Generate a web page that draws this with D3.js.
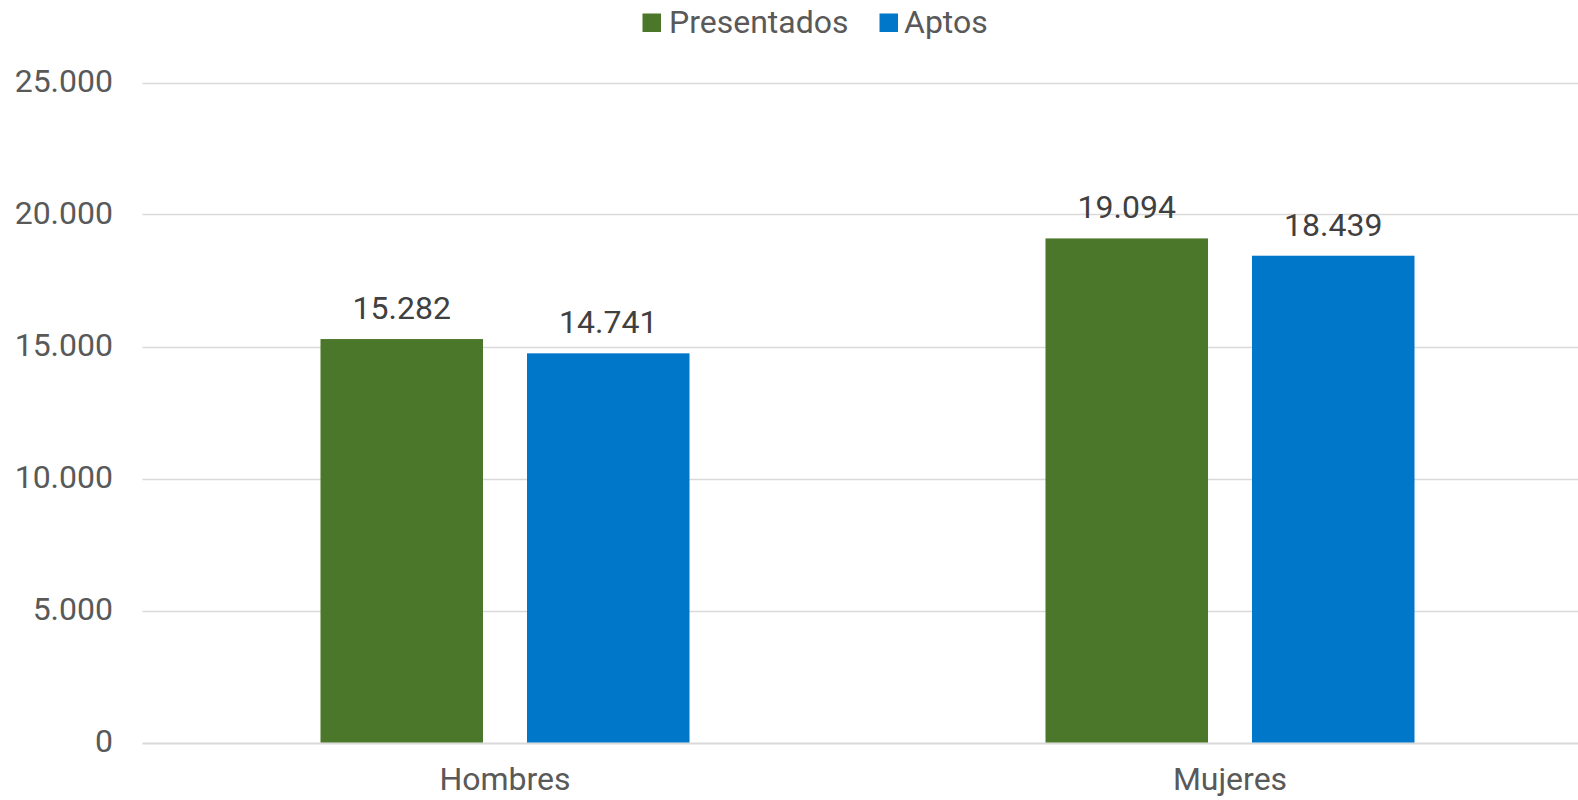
<!DOCTYPE html>
<html>
<head>
<meta charset="utf-8">
<script src="https://cdn.jsdelivr.net/npm/d3@7/dist/d3.min.js"></script>
<style>
  html, body { margin: 0; padding: 0; background: #fff; }
  svg { display: block; font-family: Roboto, "Noto Sans", sans-serif; }
</style>
</head>
<body>
<svg id="chart" width="1578" height="800"></svg>
<script>
const categories = ["Hombres", "Mujeres"];
const seriesNames = ["Presentados", "Aptos"];
const presentados = [15282, 19094];
const aptos = [14741, 18439];
const yTicks = [0, 5000, 10000, 15000, 20000, 25000];
const colors = ["#4a7729", "#0077c8"];

const seriesValues = [presentados, aptos];
const fmt = v => d3.format(",")(v).replace(/,/g, ".");

const svg = d3.select("#chart");
const fontSize = 32;

const y = d3.scaleLinear().domain([0, 25000]).range([742.5, 82.5]);
const x0 = d3.scaleBand().domain(categories).range([142.5, 1592.5]).paddingInner(0).paddingOuter(0);
const x1 = d3.scaleBand().domain(seriesNames).range([0, x0.bandwidth()]).paddingInner(0.213).paddingOuter(0.862);

// gridlines
svg.append("g").selectAll("line").data(yTicks).join("line")
  .attr("x1", 142.5).attr("x2", 1578)
  .attr("y1", d => Math.round(y(d)) + 0.5).attr("y2", d => Math.round(y(d)) + 0.5)
  .attr("stroke", "#d9d9d9").attr("stroke-width", d => d === 0 ? 2 : 1.5);

// y tick labels
svg.append("g").selectAll("text").data(yTicks).join("text")
  .attr("x", 113).attr("y", d => y(d) + 9.5)
  .attr("text-anchor", "end")
  .attr("font-size", fontSize).attr("fill", "#595959")
  .text(d => fmt(d));

// bars
const groups = svg.append("g").selectAll("g").data(categories).join("g")
  .attr("transform", d => `translate(${x0(d)},0)`);

groups.each(function(cat, ci) {
  const g = d3.select(this);
  seriesNames.forEach((s, si) => {
    const v = seriesValues[si][ci];
    g.append("rect")
      .attr("x", x1(s)).attr("width", x1.bandwidth())
      .attr("y", y(v)).attr("height", y(0) - y(v))
      .attr("fill", colors[si]);
    g.append("text")
      .attr("x", x1(s) + x1.bandwidth() / 2)
      .attr("y", y(v) - 20)
      .attr("text-anchor", "middle")
      .attr("font-size", fontSize).attr("fill", "#404040")
      .text(fmt(v));
  });
});

// category labels
svg.append("g").selectAll("text").data(categories).join("text")
  .attr("x", d => x0(d) + x0.bandwidth() / 2).attr("y", 790)
  .attr("text-anchor", "middle")
  .attr("font-size", fontSize).attr("fill", "#595959")
  .text(d => d);

// legend
const legend = svg.append("g");
const legendItems = [
  { name: seriesNames[0], color: colors[0], sx: 642.5, tx: 669 },
  { name: seriesNames[1], color: colors[1], sx: 879.5, tx: 904 }
];
legendItems.forEach(it => {
  legend.append("rect").attr("x", it.sx).attr("y", 13.5).attr("width", 18.5).attr("height", 18.5).attr("fill", it.color);
  legend.append("text").attr("x", it.tx).attr("y", 33).attr("font-size", fontSize).attr("fill", "#595959").text(it.name);
});
</script>
</body>
</html>
